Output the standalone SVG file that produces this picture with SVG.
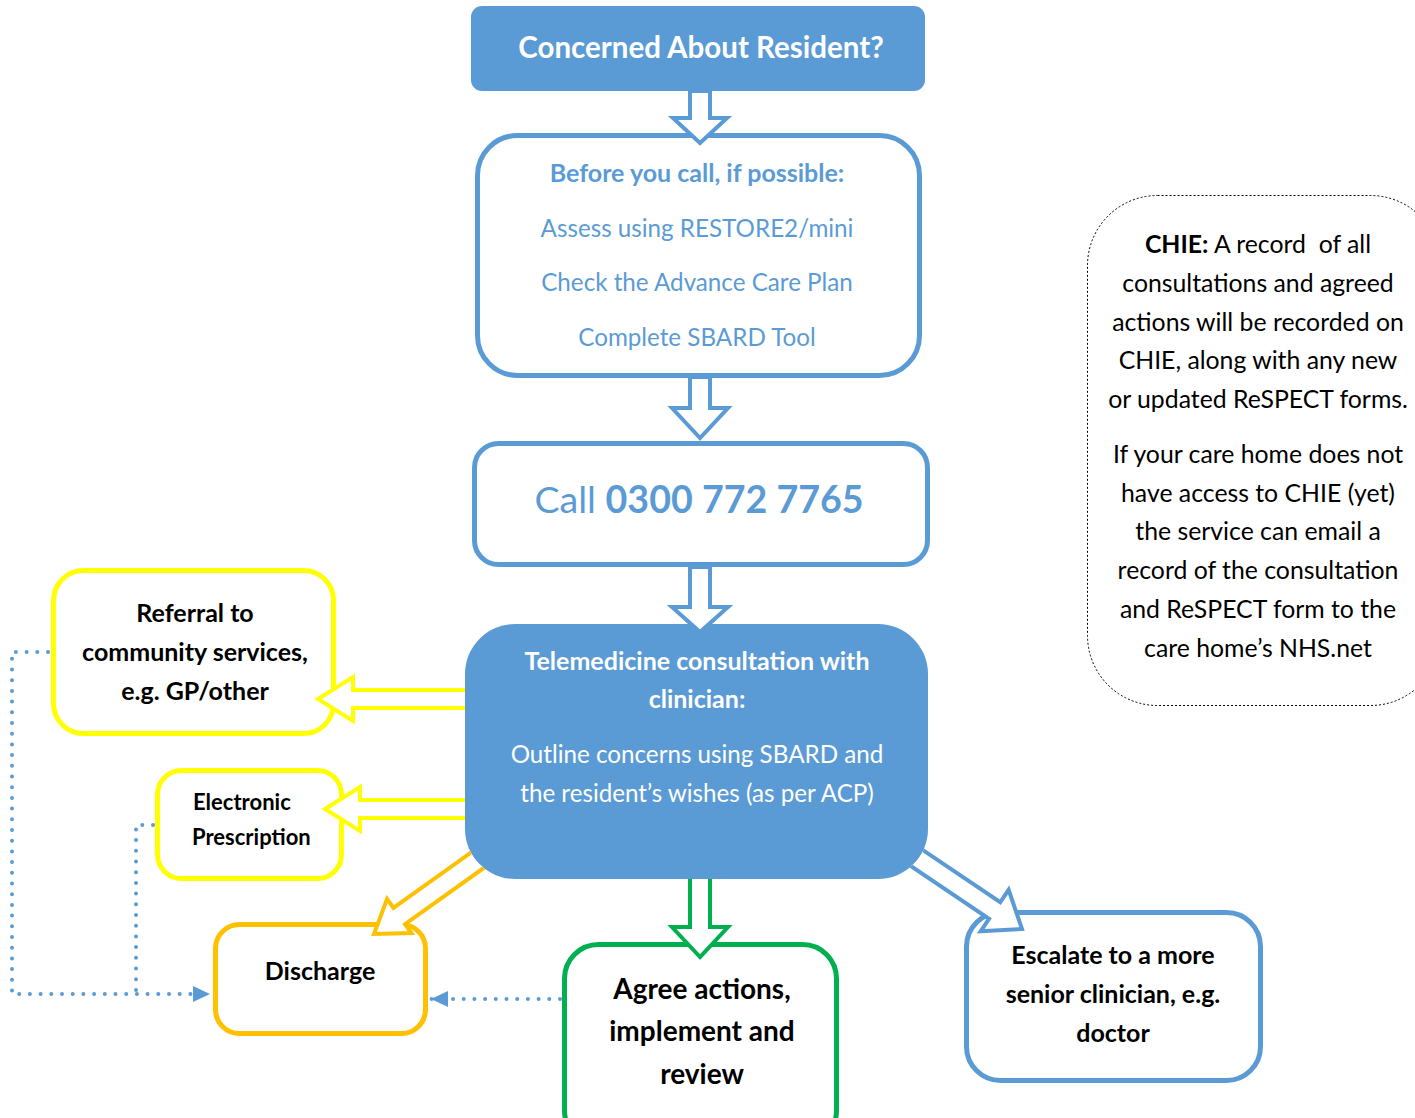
<svg xmlns="http://www.w3.org/2000/svg" width="1415" height="1118" viewBox="0 0 1415 1118">
<style>
text{font-family:Lato,"Open Sans","Liberation Sans",sans-serif;text-anchor:middle}
.b{font-weight:bold}
.wt{fill:#fff}
.bt{fill:#5B9BD5}
.kt{fill:#000}
.box{fill:#fff;stroke-width:5}
.blu{stroke:#5B9BD5}
.arr{fill:#fff;stroke-width:4;stroke-linejoin:miter}
.dot{fill:none;stroke:#5B9BD5;stroke-width:4;stroke-dasharray:0 10.7;stroke-linecap:round}
</style>
<defs>
<marker id="tri" markerUnits="userSpaceOnUse" markerWidth="18" markerHeight="16" refX="17" refY="8" orient="auto">
<path d="M0,0 L17,8 L0,16 Z" fill="#5B9BD5"/>
</marker>
<clipPath id="outside-tele">
<path clip-rule="evenodd" d="M0,0 H1415 V1118 H0 Z M515,624 H878 A50,50 0 0 1 928,674 V829 A50,50 0 0 1 878,879 H515 A50,50 0 0 1 465,829 V674 A50,50 0 0 1 515,624 Z"/>
</clipPath>
</defs>

<g id="node-concerned">
<rect x="471" y="6" width="454" height="85" rx="11" fill="#5B9BD5"/>
<text x="701" y="58" class="b wt" font-size="29.5">Concerned About Resident?</text>
</g>

<g id="node-before">
<rect x="477.5" y="135.5" width="442" height="240" rx="40" class="box blu"/>
<text x="697" y="182" class="b bt" font-size="25">Before you call, if possible:</text>
<text x="697" y="237" class="bt" font-size="24.2">Assess using RESTORE2/mini</text>
<text x="697" y="291" class="bt" font-size="24.2">Check the Advance Care Plan</text>
<text x="697" y="346" class="bt" font-size="24.2">Complete SBARD Tool</text>
</g>

<g id="node-call">
<rect x="474.5" y="443.5" width="453" height="121" rx="24" class="box blu"/>
<text x="699" y="513" class="bt" font-size="37.6">Call <tspan class="b">0300 772 7765</tspan></text>
</g>

<g id="node-referral">
<rect x="53.5" y="570.5" width="280" height="163" rx="30" class="box" stroke="#FFFF00"/>
<text x="195" y="622" class="b kt" font-size="25">Referral to</text>
<text x="195" y="661" class="b kt" font-size="25">community services,</text>
<text x="195" y="700" class="b kt" font-size="25">e.g. GP/other</text>
</g>

<g id="node-prescription">
<rect x="157.5" y="770.5" width="184" height="108" rx="24" class="box" stroke="#FFFF00"/>
<text x="193" y="810" class="b kt" font-size="22" style="text-anchor:start">Electronic</text>
<text x="192" y="845" class="b kt" font-size="22" style="text-anchor:start">Prescription</text>
</g>

<g id="node-discharge">
<rect x="215.5" y="924.5" width="210" height="109" rx="24" class="box" stroke="#FFC000"/>
<text x="320" y="980" class="b kt" font-size="25">Discharge</text>
</g>

<g id="node-agree">
<rect x="564.5" y="944.5" width="272" height="200" rx="34" class="box" stroke="#00B050"/>
<text x="702" y="999" class="b kt" font-size="28">Agree actions,</text>
<text x="702" y="1041" class="b kt" font-size="28">implement and</text>
<text x="702" y="1084" class="b kt" font-size="28">review</text>
</g>

<g id="node-escalate">
<rect x="966.5" y="912.5" width="294" height="168" rx="34" class="box blu"/>
<text x="1113" y="964" class="b kt" font-size="25">Escalate to a more</text>
<text x="1113" y="1003" class="b kt" font-size="25">senior clinician, e.g.</text>
<text x="1113" y="1042" class="b kt" font-size="25">doctor</text>
</g>

<g id="node-chie">
<rect x="1087.5" y="195.5" width="353" height="510" rx="70" fill="#fff" stroke="#000" stroke-width="1" stroke-dasharray="2 2"/>
<g class="kt" font-size="24.8">
<text x="1258" y="253" xml:space="preserve"><tspan class="b">CHIE:</tspan> A record  of all</text>
<text x="1258" y="292">consultations and agreed</text>
<text x="1258" y="331">actions will be recorded on</text>
<text x="1258" y="369">CHIE, along with any new</text>
<text x="1258" y="408">or updated ReSPECT forms.</text>
<text x="1258" y="463">If your care home does not</text>
<text x="1258" y="502">have access to CHIE (yet)</text>
<text x="1258" y="540">the service can email a</text>
<text x="1258" y="579">record of the consultation</text>
<text x="1258" y="618">and ReSPECT form to the</text>
<text x="1258" y="657">care home’s NHS.net</text>
</g>
</g>

<g id="node-telemedicine">
<rect x="465" y="624" width="463" height="255" rx="50" fill="#5B9BD5"/>
<text x="697" y="670" class="b wt" font-size="25">Telemedicine consultation with</text>
<text x="697" y="708" class="b wt" font-size="25">clinician:</text>
<text x="697" y="763" class="wt" font-size="24.2">Outline concerns using SBARD and</text>
<text x="697" y="802" class="wt" font-size="24.2">the resident’s wishes (as per ACP)</text>
</g>

<g id="connectors">
<path class="arr blu" transform="translate(700,143)" d="M0,0 L-27,-25 L-10,-25 L-10,-52 L10,-52 L10,-25 L27,-25 Z"/>
<path class="arr blu" transform="translate(700,438)" d="M0,0 L-28,-30 L-10,-30 L-10,-61 L10,-61 L10,-30 L28,-30 Z"/>
<path class="arr blu" transform="translate(700,632)" d="M0,0 L-28,-25 L-10,-25 L-10,-65 L10,-65 L10,-25 L28,-25 Z"/>
<g clip-path="url(#outside-tele)">
<path class="arr" stroke="#00B050" transform="translate(700,957)" d="M0,0 L-28,-30 L-10,-30 L-10,-90 L10,-90 L10,-30 L28,-30 Z"/>
<path class="arr" stroke="#FFFF00" transform="translate(318,699) rotate(90)" d="M0,0 L-22,-35 L-9,-35 L-9,-152 L9,-152 L9,-35 L22,-35 Z"/>
<path class="arr" stroke="#FFFF00" transform="translate(325,809) rotate(90)" d="M0,0 L-22,-35 L-9,-35 L-9,-150 L9,-150 L9,-35 L22,-35 Z"/>
<path class="arr" stroke="#FFC000" transform="translate(374,934) rotate(54.5)" d="M0,0 L-21,-31 L-10,-31 L-10,-135 L10,-135 L10,-31 L21,-31 Z"/>
<path class="arr blu" transform="translate(1022,929) rotate(-56)" d="M0,0 L-25,-33 L-10,-33 L-10,-140 L10,-140 L10,-33 L25,-33 Z"/>
</g>
<path class="dot" d="M48,652 H12 V994 H210" marker-end="url(#tri)"/>
<path class="dot" d="M153,825 H136 V994"/>
<path class="dot" d="M560,999 H431" marker-end="url(#tri)"/>
</g>
</svg>
